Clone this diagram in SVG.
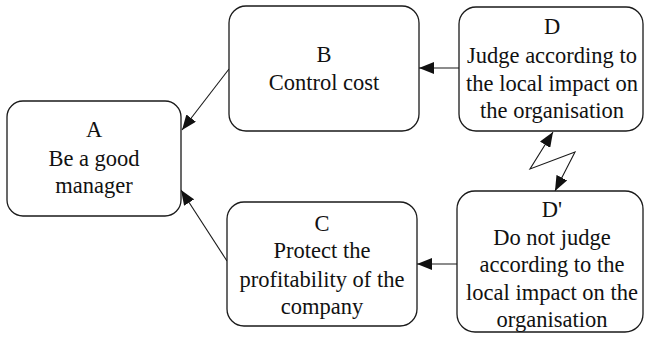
<svg xmlns="http://www.w3.org/2000/svg" width="646" height="337" viewBox="0 0 646 337">
  <style>
    .box { fill: #ffffff; stroke: #1a1a1a; stroke-width: 1.3; }
    .label { font-size: 22.5px; fill: #111111; text-anchor: middle; }
    .link { fill: none; stroke: #1a1a1a; stroke-width: 1.1; }
  </style>
  <defs>
    <marker id="arrow" viewBox="0 0 15 12" refX="15" refY="6" markerWidth="15" markerHeight="12" markerUnits="userSpaceOnUse" orient="auto">
      <path d="M0,0 L15,6 L0,12 Z" fill="#111111"/>
    </marker>
    <marker id="arrow-start" viewBox="0 0 15 12" refX="0" refY="6" markerWidth="15" markerHeight="12" markerUnits="userSpaceOnUse" orient="auto">
      <path d="M15,0 L0,6 L15,12 Z" fill="#111111"/>
    </marker>
  </defs>
  <rect width="646" height="337" fill="#ffffff"/>

  <g id="connectors">
    <line class="link" x1="229" y1="69" x2="182" y2="130" marker-end="url(#arrow)"/>
    <line class="link" x1="227" y1="261" x2="181" y2="190" marker-end="url(#arrow)"/>
    <line class="link" x1="459" y1="68" x2="419" y2="68" marker-end="url(#arrow)"/>
    <line class="link" x1="457" y1="264" x2="417" y2="264" marker-end="url(#arrow)"/>
    <!-- zigzag conflict link between D and D' -->
    <polyline class="link" points="553,132 530,169 575,152 555,191" marker-start="url(#arrow-start)" marker-end="url(#arrow)"/>
  </g>

  <g font-family="Liberation Serif, Times New Roman, serif">
  <g id="node-a">
    <rect class="box" x="7" y="101" width="174" height="115" rx="16"/>
    <text class="label" x="94" y="137">A</text>
    <text class="label" x="94" y="166">Be a good</text>
    <text class="label" x="94" y="193">manager</text>
  </g>

  <g id="node-b">
    <rect class="box" x="229" y="6" width="190" height="125" rx="17"/>
    <text class="label" x="324" y="62">B</text>
    <text class="label" x="324" y="90">Control cost</text>
  </g>

  <g id="node-c">
    <rect class="box" x="227" y="202" width="190" height="124" rx="17"/>
    <text class="label" x="322" y="231">C</text>
    <text class="label" x="322" y="258">Protect the</text>
    <text class="label" x="322" y="287">profitability of the</text>
    <text class="label" x="322" y="314">company</text>
  </g>

  <g id="node-d">
    <rect class="box" x="459" y="7" width="184" height="124" rx="17"/>
    <text class="label" x="552" y="34">D</text>
    <text class="label" x="552" y="63">Judge according to</text>
    <text class="label" x="552" y="91">the local impact on</text>
    <text class="label" x="552" y="118">the organisation</text>
  </g>

  <g id="node-d-prime">
    <rect class="box" x="457" y="191" width="186" height="141" rx="18"/>
    <text class="label" x="552" y="217">D'</text>
    <text class="label" x="552" y="245">Do not judge</text>
    <text class="label" x="552" y="272">according to the</text>
    <text class="label" x="552" y="300">local impact on the</text>
    <text class="label" x="552" y="327">organisation</text>
  </g>
  </g>
</svg>
